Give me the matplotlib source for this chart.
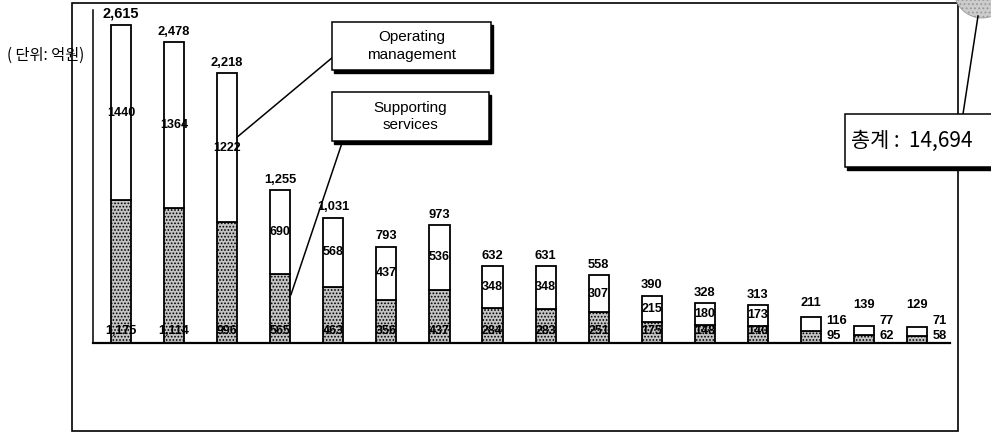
import matplotlib
matplotlib.use("Agg")
import matplotlib.pyplot as plt
from matplotlib.patches import Rectangle, Circle
from matplotlib.patches import ConnectionPatch

# 지원 서비스 / 운영 관리 (단위: 억원)
categories = list(range(16))
supporting = [1175, 1114, 996, 565, 463, 356, 437, 284, 283, 251, 175, 148, 140, 95, 62, 58]
operating = [1440, 1364, 1222, 690, 568, 437, 536, 348, 348, 307, 215, 180, 173, 116, 77, 71]
totals = [2615, 2478, 2218, 1255, 1031, 793, 973, 632, 631, 558, 390, 328, 313, 211, 139, 129]
grand_total = 14694

W, H = 991, 432
fig = plt.figure(figsize=(W / 100, H / 100), dpi=100)
fig.patch.set_facecolor("white")
plt.rcParams["hatch.color"] = "#707070"
plt.rcParams["hatch.linewidth"] = 0.8

NUM = ["Liberation Sans", "DejaVu Sans"]
KR = ["Noto Sans CJK KR", "DejaVu Sans"]

# main bar area
left_px, right_px, base_px, top_px = 93, 950, 343, 10
ax = fig.add_axes([left_px / W, (H - base_px) / H,
                   (right_px - left_px) / W, (base_px - top_px) / H])
ax.set_zorder(1)
ax.patch.set_alpha(0)
px_per_unit = 0.1216
ax.set_ylim(0, (base_px - top_px) / px_per_unit)
ax.set_xlim(-0.528, 15.62)
for s in ("top", "right"):
    ax.spines[s].set_visible(False)
ax.spines["left"].set_linewidth(1.1)
ax.spines["bottom"].set_linewidth(1.6)
ax.set_xticks([])
ax.set_yticks([])

bw = 0.38
ax.bar(categories, supporting, width=bw, color="#c4c4c4", edgecolor="black",
       linewidth=1.3, hatch=".....", zorder=2)
ax.bar(categories, operating, bottom=supporting, width=bw, color="white",
       edgecolor="black", linewidth=1.3, zorder=2)

for i, (s, o, t) in enumerate(zip(supporting, operating, totals)):
    fs = 10.5 if i == 0 else 9.3
    if i < 13:
        ax.annotate(f"{t:,}", (i, t), xytext=(0, 3), textcoords="offset points",
                    ha="center", va="bottom", fontsize=fs, fontweight="bold",
                    family=NUM, zorder=4)
        ax.annotate(f"{o}", (i, s + o / 2), ha="center", va="center",
                    fontsize=9, fontweight="bold", family=NUM, zorder=4)
        ax.annotate(f"{s:,}", (i, 0), xytext=(0, 9), textcoords="offset points",
                    ha="center", va="center", fontsize=9, fontweight="bold",
                    family=NUM, zorder=4)
    else:
        # short bars: totals lifted clear, segment values beside the bar
        ax.annotate(f"{t:,}", (i, 0), xytext=(0, 28.5 if i == 13 else 27),
                    textcoords="offset points", ha="center", va="center",
                    fontsize=fs, fontweight="bold", family=NUM, zorder=4)
        ax.annotate(f"{o}", (i + bw / 2, 0), xytext=(4, 16),
                    textcoords="offset points", ha="left", va="center",
                    fontsize=9.3, fontweight="bold", family=NUM, zorder=4)
        ax.annotate(f"{s}", (i + bw / 2, 0), xytext=(4, 5),
                    textcoords="offset points", ha="left", va="center",
                    fontsize=9.3, fontweight="bold", family=NUM, zorder=4)

# overlay in pixel coordinates for frame and callouts
ov = fig.add_axes([0, 0, 1, 1])
ov.set_zorder(2)
ov.patch.set_alpha(0)
ov.set_xlim(0, W)
ov.set_ylim(H, 0)
ov.axis("off")

ov.add_patch(Rectangle((72, 3), 958 - 72, 428, fill=False, edgecolor="black",
                       linewidth=1.2))
ov.text(7, 55, "( 단위: 억원)", family=KR, fontsize=11, ha="left",
        va="center", zorder=3)

# pointer circle at the top right
ov.add_patch(Circle((982, -10), 28, facecolor="#cccccc", edgecolor="#999999",
                    hatch="....", linewidth=0.6))


def callout(x0, y0, x1, y1, text, fs, family, ha="center", tx=None):
    ov.add_patch(Rectangle((x0 + 2, y0 + 2.5), x1 - x0, y1 - y0,
                           facecolor="black", edgecolor="black", zorder=5))
    ov.add_patch(Rectangle((x0, y0), x1 - x0, y1 - y0, facecolor="white",
                           edgecolor="black", linewidth=1.1, zorder=6))
    ov.text(tx if tx is not None else (x0 + x1) / 2, (y0 + y1) / 2, text,
            ha=ha, va="center", fontsize=fs, family=family,
            linespacing=1.3, zorder=7)


callout(332, 22, 491, 70, "Operating\nmanagement", 11, NUM)
callout(332, 92, 489, 141, "Supporting\nservices", 11, NUM)

# leader lines from the boxes to the bars
for xy_data, xy_px in [((2 + bw / 2, 1694), (333, 57)),
                       ((3 + 0.2, 395), (342, 143))]:
    con = ConnectionPatch(xyA=xy_data, coordsA=ax.transData,
                          xyB=xy_px, coordsB=ov.transData,
                          color="black", linewidth=1.1, zorder=4)
    ov.add_artist(con)

ov.plot([963, 978], [114, 16], color="black", linewidth=1.1, zorder=4)
callout(845, 114, 1000, 167, f"총계 :  {grand_total:,}", 15, KR, ha="left",
        tx=851)

fig.savefig("out.png", dpi=100, facecolor="white")
